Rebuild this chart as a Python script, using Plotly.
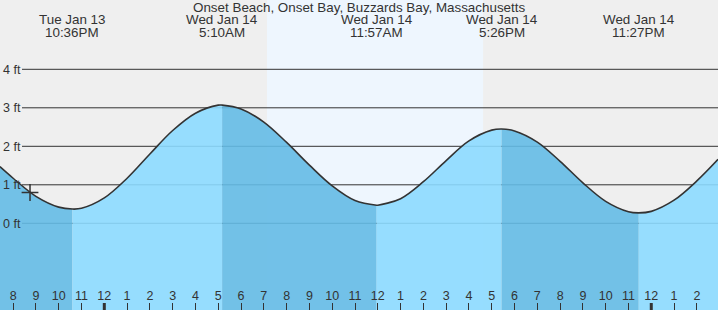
import plotly.graph_objects as go

# ---- data (hours relative to Wed Jan 14 00:00, heights in ft) ----
hours = [-4.58, -4, -3, -2, -1.4, -1, 0, 1, 2, 3, 4, 5, 5.17, 6, 7, 8, 9, 10, 11, 11.95,
         12, 13, 14, 15, 16, 17, 17.43, 18, 19, 20, 21, 22, 23, 23.45, 24, 25, 26, 26.93]
heights = [1.47, 1.17, 0.70, 0.42, 0.37, 0.39, 0.66, 1.17, 1.80, 2.41, 2.86, 3.07, 3.07, 2.97, 2.63,
           2.10, 1.51, 0.97, 0.59, 0.47, 0.47, 0.64, 1.08, 1.63, 2.14, 2.42, 2.45, 2.40, 2.11,
           1.61, 1.05, 0.57, 0.30, 0.27, 0.31, 0.60, 1.10, 1.66]

extreme_hours = [-1.4, 5.17, 11.95, 17.43, 23.45]
extreme_days = ["Tue Jan 13", "Wed Jan 14", "Wed Jan 14", "Wed Jan 14", "Wed Jan 14"]
extreme_times = ["10:36PM", "5:10AM", "11:57AM", "5:26PM", "11:27PM"]

sunrise, sunset = 7.14, 16.62
now_hour, now_height = -3.26, 0.80

tick_hours = list(range(-4, 27))
tick_labels = ["8", "9", "10", "11", "12", "1", "2", "3", "4", "5", "6", "7", "8", "9", "10", "11",
               "12", "1", "2", "3", "4", "5", "6", "7", "8", "9", "10", "11", "12", "1", "2"]
midnights = [0, 24]
ft_levels = [0, 1, 2, 3, 4]
ft_labels = ["0 ft", "1 ft", "2 ft", "3 ft", "4 ft"]

title = "Onset Beach, Onset Bay, Buzzards Bay, Massachusetts"

# ---- style ----
FONT = "Arial, Liberation Sans, sans-serif"
TXT = "#333333"
LIGHT = "rgba(140,218,255,0.9)"
DARK = "rgba(100,187,229,0.9)"
BASE = -3
FS = 13.4

fig = go.Figure()

# split the curve into segments at extremes
cut_idx = [0] + [hours.index(h) for h in extreme_hours] + [len(hours) - 1]
for k in range(len(cut_idx) - 1):
    a, b = cut_idx[k], cut_idx[k + 1]
    xs = hours[a:b + 1]
    ys = heights[a:b + 1]
    falling = ys[-1] < ys[0]
    fig.add_trace(go.Scatter(x=[xs[0], xs[-1]], y=[BASE, BASE], mode="lines",
                             line=dict(width=0), hoverinfo="skip", showlegend=False))
    fig.add_trace(go.Scatter(x=xs, y=ys, mode="lines", fill="tonexty",
                             fillcolor=DARK if falling else LIGHT,
                             line=dict(width=0, shape="spline"), hoverinfo="skip",
                             showlegend=False))

fig.add_trace(go.Scatter(x=hours, y=heights, mode="lines",
                         line=dict(color="#333333", width=1.6, shape="spline"),
                         hoverinfo="skip", showlegend=False))

fig.add_trace(go.Scatter(x=[now_hour], y=[now_height], mode="markers",
                         marker=dict(symbol="cross-thin", size=12,
                                     line=dict(width=1.5, color="#333333")),
                         hoverinfo="skip", showlegend=False))

shapes = []
shapes.append(dict(type="rect", xref="x", yref="paper", x0=sunrise, x1=sunset, y0=0, y1=1,
                   fillcolor="#eef6fe", line=dict(width=0), layer="below"))
for lv in ft_levels:
    shapes.append(dict(type="line", xref="paper", yref="y", x0=22 / 718, x1=1, y0=lv, y1=lv,
                       line=dict(color="#333333", width=1), layer="below"))
for m in midnights:
    shapes.append(dict(type="line", xref="x", yref="paper", x0=m, x1=m, y0=0, y1=7 / 310,
                       line=dict(color="#333333", width=3), layer="above"))

annotations = [dict(text=title, x=0.5, y=1, xref="paper", yref="paper", xanchor="center",
                    yanchor="middle", yshift=-7, showarrow=False,
                    font=dict(size=FS, color=TXT, family=FONT))]
for h, d, t in zip(extreme_hours, extreme_days, extreme_times):
    annotations.append(dict(text=d, x=h, y=1, xref="x", yref="paper",
                            xanchor="center", yanchor="middle", yshift=-19, showarrow=False,
                            font=dict(size=FS, color=TXT, family=FONT)))
    annotations.append(dict(text=t, x=h, y=1, xref="x", yref="paper",
                            xanchor="center", yanchor="middle", yshift=-32, showarrow=False,
                            font=dict(size=FS, color=TXT, family=FONT)))

fig.update_layout(
    width=718, height=310, margin=dict(l=0, r=0, t=0, b=0),
    paper_bgcolor="#efefef", plot_bgcolor="#efefef",
    shapes=shapes, annotations=annotations, showlegend=False,
    xaxis=dict(range=[-4.5766, 26.928], tickvals=tick_hours, ticktext=tick_labels,
               ticks="inside", ticklen=7, tickwidth=1, tickcolor="#333333",
               ticklabelposition="inside", ticklabeloverflow="allow",
               showgrid=False, zeroline=False, showline=False,
               tickfont=dict(size=12.5, color=TXT, family=FONT), fixedrange=True),
    yaxis=dict(range=[-2.252, 5.800], tickvals=ft_levels, ticktext=ft_labels,
               ticklabelposition="inside", ticklabeloverflow="allow", ticks="",
               showgrid=False, zeroline=False,
               showline=False, tickfont=dict(size=12.5, color=TXT, family=FONT), fixedrange=True),
)

fig.write_html("out.html")
